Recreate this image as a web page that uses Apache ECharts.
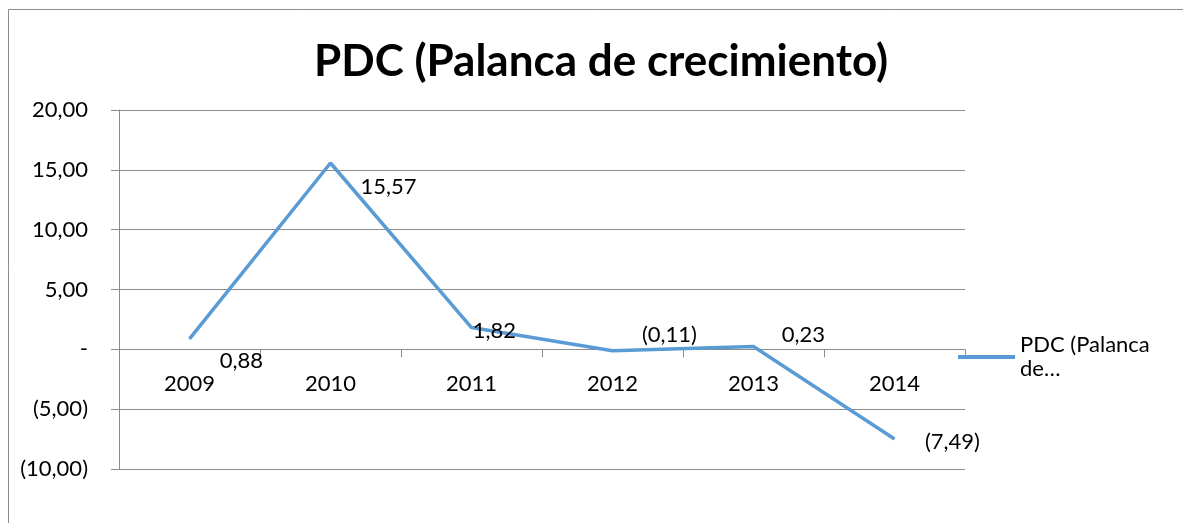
<!DOCTYPE html>
<html>
<head>
<meta charset="utf-8">
<script src="https://cdn.jsdelivr.net/npm/echarts@6/dist/echarts.min.js"></script>
<style>
  html, body { margin: 0; padding: 0; background: #fff; }
  #chart { width: 1183px; height: 523px; }
</style>
</head>
<body>
<div id="chart"></div>
<script>
const years = ['2009', '2010', '2011', '2012', '2013', '2014']
const pdcValues = [0.88, 15.57, 1.82, -0.11, 0.23, -7.49]
// desplazamiento de cada etiqueta respecto a su punto
const labelOffsets = [[52, 22], [58, 24], [23, 3], [57, -16], [50, -12], [58, 3]]

const FONT = 'Lato, "Noto Sans", sans-serif'

// formato tipo Excel: coma decimal, negativos entre paréntesis, cero como guion
const fmt = v => {
  if (Math.abs(v) < 1e-9) return '-'
  const s = Math.abs(v).toFixed(2).replace('.', ',')
  return v < 0 ? '(' + s + ')' : s
}

const chart = echarts.init(document.getElementById('chart'))

const option = {
  animation: false,
  backgroundColor: '#fff',
  textStyle: { fontFamily: FONT },
  graphic: [{
    type: 'rect',
    shape: { x: 8.5, y: 9.5, width: 1300, height: 700 },
    style: { fill: 'none', stroke: '#8c8c8c', lineWidth: 1 },
    silent: true
  }],
  title: {
    text: 'PDC (Palanca de crecimiento)',
    left: 596,
    top: 35,
    textAlign: 'center',
    textStyle: { fontFamily: FONT, fontSize: 44, fontWeight: 'bold', color: '#000' }
  },
  legend: {
    data: [{ name: 'PDC (Palanca de crecimiento)', icon: 'rect' }],
    left: 958,
    top: 321,
    padding: 0,
    itemWidth: 57,
    itemHeight: 4,
    formatter: () => 'PDC (Palanca\nde…',
    textStyle: { fontFamily: FONT, fontSize: 22, color: '#000', lineHeight: 24, padding: [24, 0, 0, 0] }
  },
  grid: { left: 119, right: 218, top: 110, bottom: 54, containLabel: false },
  xAxis: {
    type: 'category',
    data: years,
    boundaryGap: true,
    axisLine: { onZero: true, lineStyle: { color: '#8c8c8c', width: 1 } },
    axisTick: { show: true, length: 8, lineStyle: { color: '#8c8c8c' } },
    axisLabel: { margin: -96, fontSize: 22, color: '#000', fontFamily: FONT }
  },
  yAxis: {
    type: 'value',
    min: -10,
    max: 20,
    interval: 5,
    axisLine: { show: true, lineStyle: { color: '#8c8c8c', width: 1 } },
    axisTick: { show: true, length: 8, lineStyle: { color: '#8c8c8c' } },
    splitLine: { lineStyle: { color: '#8c8c8c', width: 1 } },
    axisLabel: { margin: 31, fontSize: 22, color: '#000', fontFamily: FONT, formatter: fmt }
  },
  series: [{
    name: 'PDC (Palanca de crecimiento)',
    type: 'line',
    data: pdcValues.map((v, i) => ({
      value: v,
      label: { position: labelOffsets[i] }
    })),
    symbol: 'circle',
    symbolSize: 0.1,
    showSymbol: true,
    color: '#5b9bd5',
    lineStyle: { color: '#5b9bd5', width: 3.5 },
    label: {
      show: true,
      align: 'center',
      verticalAlign: 'middle',
      fontSize: 22,
      color: '#000',
      fontFamily: FONT,
      formatter: p => fmt(p.value)
    }
  }]
}

chart.setOption(option)
</script>
</body>
</html>
